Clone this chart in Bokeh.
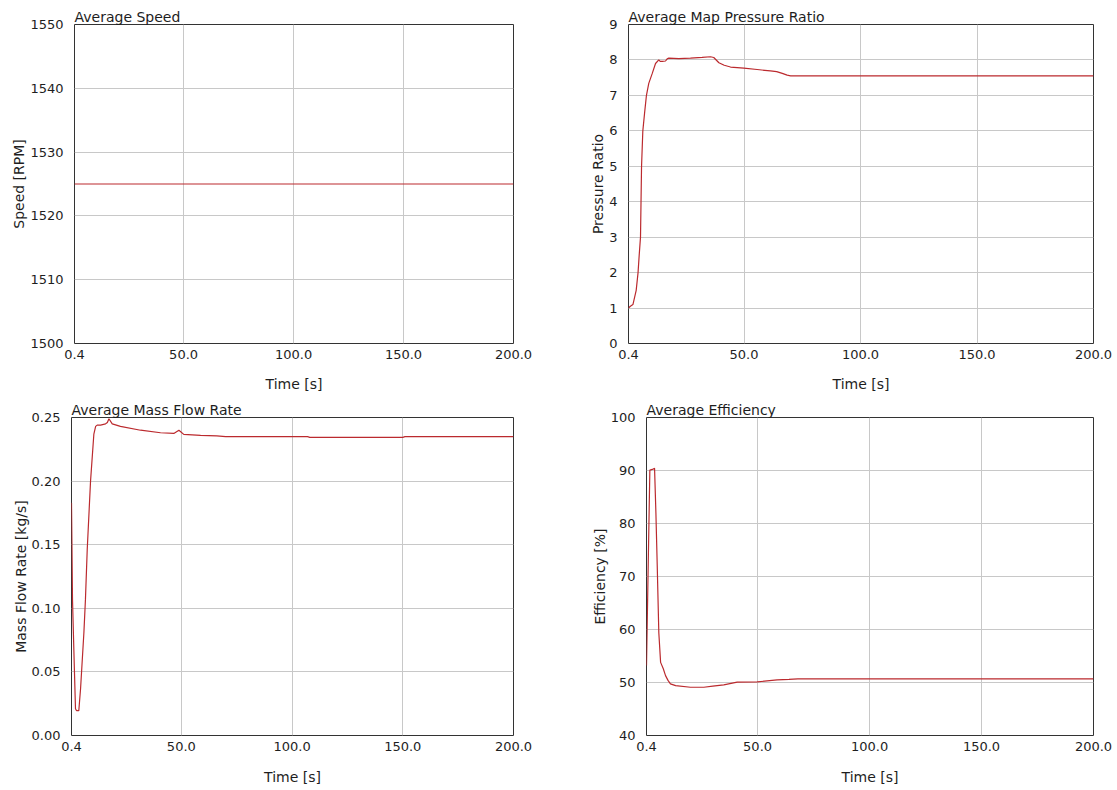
from bokeh.plotting import figure
from bokeh.layouts import column, row
from bokeh.models import FixedTicker, Range1d, NumeralTickFormatter
from bokeh.embed import file_html
from bokeh.resources import INLINE

# ---- data ----
x_ticks = [0.4, 50, 100, 150, 200]

t_speed = [0.4, 200.0]
speed = [1525.0, 1525.0]
speed_ticks = [1500, 1510, 1520, 1530, 1540, 1550]

t_pr = [0.4, 1.2, 2.3, 3.7, 4.5, 5.0, 5.55, 6.0, 6.55, 7.3, 8.1, 9.1, 10.6, 12.0, 13.4, 14.0,
        14.9, 16.3, 17.0, 17.7, 22.0, 27.0, 32.0, 35.6, 37.0, 39.2, 41.5, 44.2, 49.9, 55.6,
        61.3, 64.0, 66.4, 68.5, 70.0, 200.0]
pr = [1.0, 1.05, 1.1, 1.5, 2.0, 2.5, 3.0, 5.0, 6.0, 6.5, 7.0, 7.34, 7.62, 7.9, 8.0, 7.96,
      7.96, 7.97, 8.03, 8.05, 8.04, 8.05, 8.07, 8.09, 8.07, 7.92, 7.85, 7.8, 7.77, 7.73,
      7.69, 7.67, 7.62, 7.57, 7.55, 7.55]
pr_ticks = [0, 1, 2, 3, 4, 5, 6, 7, 8, 9]

t_mf = [0.4, 0.85, 1.45, 2.2, 2.7, 3.7, 4.5, 6.0, 6.7, 7.5, 9.0, 10.5, 11.3, 12.0, 13.5,
        15.8, 16.6, 17.3, 18.8, 22.5, 31.6, 40.6, 46.6, 48.9, 51.1, 58.7, 66.0, 70.0, 107.0,
        108.0, 150.0, 151.0, 200.0]
mf = [0.183, 0.107, 0.068, 0.021, 0.0195, 0.0195, 0.037, 0.081, 0.107, 0.146, 0.200, 0.237,
      0.243, 0.244, 0.244, 0.245, 0.246, 0.249, 0.245, 0.243, 0.240, 0.238, 0.2375, 0.240,
      0.2367, 0.236, 0.2355, 0.235, 0.235, 0.2344, 0.2344, 0.235, 0.235]
mf_ticks = [0.0, 0.05, 0.10, 0.15, 0.20, 0.25]

t_ef = [0.4, 1.2, 1.9, 3.0, 4.0, 4.6, 5.2, 5.9, 6.7, 7.9, 8.9, 10.0, 11.1, 13.4, 20.0, 26.0,
        30.0, 34.9, 40.9, 49.8, 58.7, 64.0, 68.0, 200.0]
ef = [53.2, 73.0, 90.06, 90.2, 90.4, 82.0, 71.9, 59.4, 53.8, 52.6, 51.3, 50.4, 49.75, 49.4,
      49.1, 49.1, 49.3, 49.55, 50.06, 50.1, 50.5, 50.6, 50.7, 50.7]
ef_ticks = [40, 50, 60, 70, 80, 90, 100]

FONT = "DejaVu Sans"
TXT = "#1e1e1e"
LINE = "#bb2a2e"
GRID = "#c8c8c8"


def make(title, ylabel, xs, ys, yr, yticks, width, height, ml, mr, mt, mb,
         xlabel_standoff, yfmt=None):
    p = figure(width=width, height=height, x_range=Range1d(0.4, 200), y_range=Range1d(*yr),
               output_backend="svg", toolbar_location=None,
               min_border_left=ml, min_border_right=mr, min_border_top=mt, min_border_bottom=mb)
    p.title.text = title
    p.title.text_font = FONT
    p.title.text_font_size = "14px"
    p.title.text_font_style = "normal"
    p.title.text_color = TXT
    p.title.align = "left"
    p.title.offset = 0
    p.title.standoff = 0
    p.line(xs, ys, line_color=LINE, line_width=1.2)
    p.xaxis.ticker = FixedTicker(ticks=x_ticks)
    p.xaxis.formatter = NumeralTickFormatter(format="0.0")
    p.yaxis.ticker = FixedTicker(ticks=yticks)
    if yfmt:
        p.yaxis.formatter = NumeralTickFormatter(format=yfmt)
    p.xaxis.axis_label = "Time [s]"
    p.yaxis.axis_label = ylabel
    for ax in (p.xaxis, p.yaxis):
        ax.axis_line_color = None
        ax.major_tick_line_color = None
        ax.minor_tick_line_color = None
        ax.major_label_text_font = FONT
        ax.major_label_text_font_size = "13px"
        ax.major_label_text_color = TXT
        ax.axis_label_text_font = FONT
        ax.axis_label_text_font_size = "14px"
        ax.axis_label_text_font_style = "normal"
        ax.axis_label_text_color = TXT
    p.xaxis.major_label_standoff = 0
    p.yaxis.major_label_standoff = 5
    p.xaxis.axis_label_standoff = xlabel_standoff
    p.yaxis.axis_label_standoff = 0
    p.xgrid.grid_line_color = GRID
    p.ygrid.grid_line_color = GRID
    p.outline_line_color = "#333333"
    p.outline_line_width = 1
    p.outline_line_alpha = 1.0
    p.background_fill_color = "white"
    p.border_fill_color = "white"
    return p


p1 = make("Average Speed", "Speed [RPM]", t_speed, speed, (1500, 1550), speed_ticks,
          570, 395, 74, 57, 24, 52, 14)
p2 = make("Average Map Pressure Ratio", "Pressure Ratio", t_pr, pr, (0, 9), pr_ticks,
          545, 395, 58, 22, 24, 52, 14)
p3 = make("Average Mass Flow Rate", "Mass Flow Rate [kg/s]", t_mf, mf, (0, 0.25), mf_ticks,
          570, 392, 71, 57, 22, 50, 15, yfmt="0.00")
p4 = make("Average Efficiency", "Efficiency [%]", t_ef, ef, (40, 100), ef_ticks,
          545, 392, 76, 22, 22, 50, 15)

layout = column(row(p1, p2), row(p3, p4))
open("out.html", "w").write(file_html(layout, INLINE))
